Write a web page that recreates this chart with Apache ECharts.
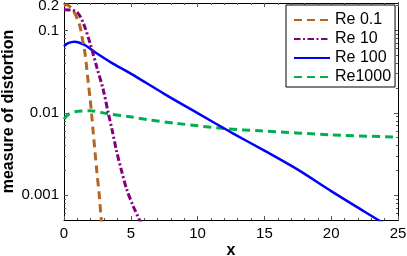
<!DOCTYPE html>
<html><head><meta charset="utf-8">
<script src="https://cdn.jsdelivr.net/npm/echarts@6/dist/echarts.min.js"></script>
<style>html,body{margin:0;padding:0;background:#fff}#c{width:407px;height:256px}</style>
</head><body><div id="c"></div>
<script>
// ---- data ----
const seriesNames = ['Re 0.1', 'Re 10', 'Re 100', 'Re1000'];

const re01X = [0, 0.2, 0.5, 0.82, 1.05, 1.2, 1.4, 1.57, 1.82, 1.95, 2.07, 2.2, 2.45, 2.64, 2.75, 2.85];
const re01Y = [0.2, 0.205, 0.19, 0.16, 0.13, 0.111, 0.075, 0.053, 0.023, 0.015, 0.0095, 0.0055, 0.002, 0.001, 0.0006, 0.0004];

const re10X = [0, 0.5, 1.0, 1.45, 1.95, 2.45, 2.94, 3.32, 3.6, 3.94, 4.3, 4.69, 5.19, 5.65, 5.9];
const re10Y = [0.178, 0.177, 0.165, 0.122, 0.07, 0.036, 0.019, 0.0098, 0.0062, 0.0034, 0.002, 0.00118, 0.00073, 0.0005, 0.0004];

const re100X = [0, 0.3, 0.8, 1.5, 2.5, 3.5, 5, 7.5, 10, 12.5, 15, 17.5, 20, 22.5, 24.5];
const re100Y = [0.064, 0.07, 0.073, 0.067, 0.052, 0.041, 0.0299, 0.017, 0.0099, 0.0058, 0.00347, 0.00204, 0.00112, 0.00063, 0.0004];

const re1000X = [0, 0.3, 0.82, 1.95, 3.19, 4.94, 6.19, 8.43, 12.18, 14.67, 20.04, 25];
const re1000Y = [0.0084, 0.0095, 0.0103, 0.0106, 0.0098, 0.00895, 0.0083, 0.00744, 0.0064, 0.00605, 0.0054, 0.00507];

const xTickLabels = ['0', '5', '10', '15', '20', '25'];
const yLabelValues = [0.001, 0.01, 0.1, 0.2];
const yLabelTexts = ['0.001', '0.01', '0.1', '0.2'];
const yMajorTicks = [0.001, 0.01, 0.1];
const yMinorTicks = [0.0006, 0.0007, 0.0008, 0.0009,
  0.002, 0.003, 0.004, 0.005, 0.006, 0.007, 0.008, 0.009,
  0.02, 0.03, 0.04, 0.05, 0.06, 0.07, 0.08, 0.09, 0.2];

const xMin = 0, xMax = 25, xInterval = 5;
const yMin = 0.0005, yMax = 0.215;

// ---- chart ----
const FONT = '"Liberation Sans", Arial, Helvetica, sans-serif';
const pairs = (xs, ys) => xs.map((x, i) => [x, ys[i]]);

function xAxisDef(pos, showLabel) {
  return {
    type: 'value', position: pos, min: xMin, max: xMax, interval: xInterval,
    axisLine: { show: true, onZero: false, lineStyle: { color: '#000', width: 1 } },
    axisTick: { show: true, inside: true, length: 4, lineStyle: { color: '#555' } },
    minorTick: { show: true, splitNumber: 5, length: 2, lineStyle: { color: '#555' } },
    splitLine: { show: false },
    axisLabel: {
      show: showLabel, fontSize: 15, color: '#000', fontFamily: FONT, margin: 6,
      formatter: v => xTickLabels[Math.round((v - xMin) / xInterval)]
    },
    name: showLabel ? 'x' : '', nameLocation: 'middle', nameGap: 23, nameMoveOverlap: false,
    nameTextStyle: { fontSize: 16, fontWeight: 'bold', color: '#000', fontFamily: FONT }
  };
}
function yAxisDef(pos, major, showLabel, withName) {
  return {
    type: 'log', logBase: 10, position: pos, min: yMin, max: yMax,
    axisLine: { show: true, onZero: false, lineStyle: { color: '#000', width: 1 } },
    axisTick: { show: true, inside: true, length: major ? 4 : 2,
      customValues: major ? yMajorTicks : yMinorTicks, lineStyle: { color: '#555' } },
    minorTick: { show: false },
    splitLine: { show: false },
    axisLabel: {
      show: showLabel, customValues: yLabelValues, fontSize: 15, color: '#000', fontFamily: FONT, margin: 5,
      formatter: v => {
        let best = 0;
        yLabelValues.forEach((t, i) => { if (Math.abs(Math.log10(t) - Math.log10(v)) < Math.abs(Math.log10(yLabelValues[best]) - Math.log10(v))) best = i; });
        return yLabelTexts[best];
      }
    },
    name: withName ? 'measure of distortion' : '', nameLocation: 'middle', nameGap: 47, nameMoveOverlap: false,
    nameTextStyle: { fontSize: 16, fontWeight: 'bold', color: '#000', fontFamily: FONT }
  };
}

const colors = ['#b5651d', '#800080', '#0000ff', '#00b04f'];
const dashes = [[8, 5], [6.5, 2.5, 2, 2.5], 'solid', [8, 5]];
const widths = [3, 3, 2.5, 3];
const xs = [re01X, re10X, re100X, re1000X];
const ys = [re01Y, re10Y, re100Y, re1000Y];

const chart = echarts.init(document.getElementById('c'), null, { renderer: 'canvas' });
chart.setOption({
  animation: false,
  backgroundColor: '#fff',
  grid: { left: 64, right: 9, top: 3, bottom: 36, containLabel: false, outerBoundsMode: 'none' },
  xAxis: [xAxisDef('bottom', true), xAxisDef('top', false)],
  yAxis: [yAxisDef('left', true, true, true), yAxisDef('left', false, false, false),
          yAxisDef('right', true, false, false), yAxisDef('right', false, false, false)],
  legend: {
    data: seriesNames, orient: 'vertical', left: 286, top: 5,
    itemWidth: 36, itemHeight: 14, itemGap: 3,
    padding: [7, 4, 2, 7],
    borderColor: '#000', borderWidth: 1, borderRadius: 0, backgroundColor: '#fff',
    itemStyle: { opacity: 0 },
    textStyle: { fontSize: 16, color: '#000', fontFamily: FONT, lineHeight: 16 },
    selectedMode: false
  },
  series: seriesNames.map((n, i) => ({
    name: n, type: 'line', xAxisIndex: 0, yAxisIndex: 0,
    data: pairs(xs[i], ys[i]), symbol: 'none', smooth: 0.3, clip: true,
    lineStyle: { color: colors[i], width: widths[i], type: dashes[i], cap: 'butt' },
    itemStyle: { color: colors[i] }, z: 3 - i + 2
  }))
});
</script></body></html>
